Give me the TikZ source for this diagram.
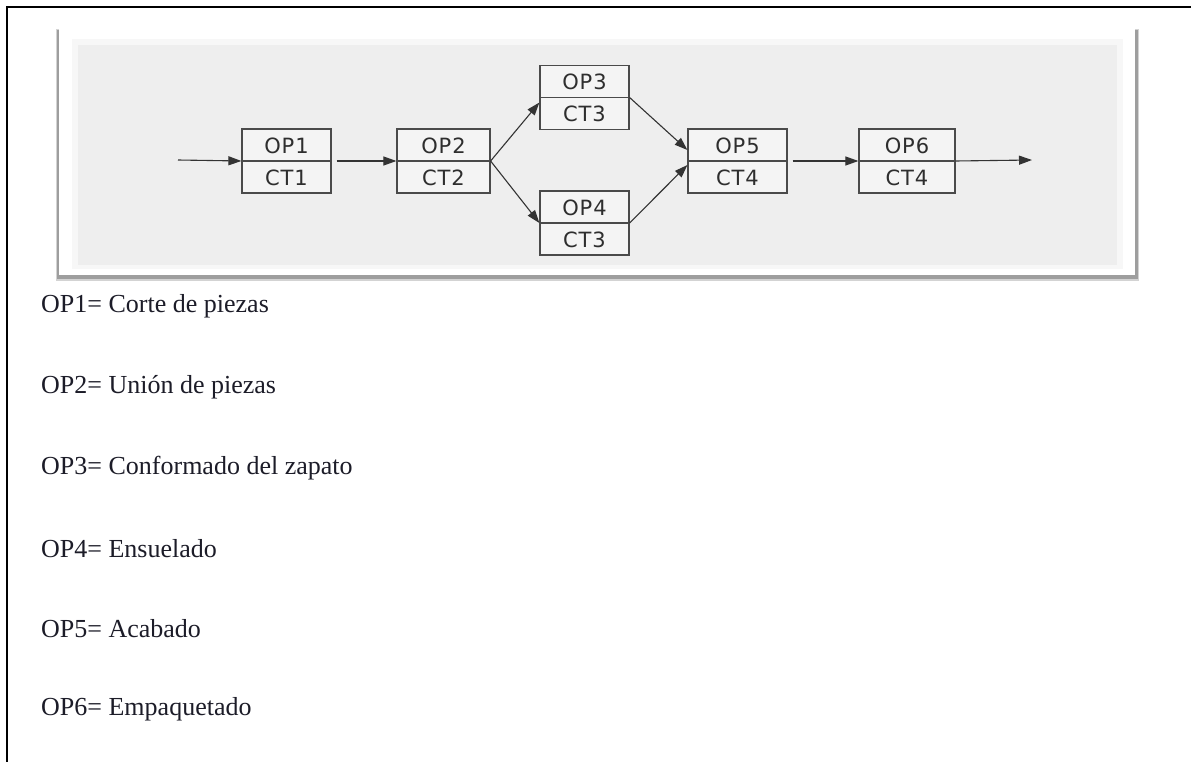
\documentclass[tikz,border=0pt]{standalone}
\usepackage{fontspec}
\setmainfont{Liberation Serif}
\newfontfamily\boxfont[LetterSpace=4]{DejaVu Sans}
\usetikzlibrary{arrows.meta}
\definecolor{panelfill}{HTML}{EEEEEE}
\definecolor{panelshade}{HTML}{9E9E9E}
\definecolor{boxfill}{HTML}{F4F4F4}
\definecolor{boxline}{HTML}{4A4A4A}
\definecolor{inktext}{HTML}{1C1C28}
% one operation stage: name, x, y, width, upper label, lower label
\newcommand\opstage[6]{%
  \node[opbox, minimum width=#4pt] (#1) at (#2,#3) {};
  \draw[boxline, line width=1.2pt] (#1.west) -- (#1.east);
  \node[boxlabel] (#1-op) at ([yshift=15.5pt]#1.center) {#5};
  \node[boxlabel] (#1-ct) at ([yshift=-16.5pt]#1.center) {#6};
}
\begin{document}
\begin{tikzpicture}[x=1pt,y=-1pt,
  opbox/.style={draw=boxline, line width=1.2pt, fill=boxfill, minimum height=64pt, inner sep=0pt},
  boxlabel/.style={font=\boxfont\fontsize{21}{21}\selectfont, text=black!82, inner sep=0pt},
  flow/.style={draw=black!80, line width=1.1pt, -{Triangle[length=13pt,width=9pt]}},
  legend/.style={font=\fontsize{26}{26}\selectfont, text=inktext, anchor=west, inner sep=0pt}]
\useasboundingbox (0,0) rectangle (1191,762);
\fill[white] (0,0) rectangle (1191,762);

% page frame (left and top rules)
\draw[line width=2pt] (7,762) -- (7,7) -- (1191,7);

% framed panel with drop shadow
\fill[panelshade!45] (56,29) rectangle (1139,281);
\fill[panelshade] (57,30) rectangle (1138,279);
\fill[white] (59,27) rectangle (1135,275);
\fill[panelfill!50] (72,39) rectangle (1123,269);
\fill[panelfill] (78,45) rectangle (1117,265);

% operation stages
\opstage{op1}{286.5}{161}{89}{OP1}{CT1}
\opstage{op2}{443.5}{161}{93}{OP2}{CT2}
\opstage{op3}{584.5}{97.5}{89}{OP3}{CT3}
\opstage{op4}{584.5}{223}{89}{OP4}{CT3}
\opstage{op5}{737.5}{161}{99}{OP5}{CT4}
\opstage{op6}{907}{161}{96}{OP6}{CT4}

\coordinate (in) at (178,160);
\coordinate (out) at (1032,160);

% material flow
\draw[flow] (in) -- (op1.west);
\draw[flow, shorten <=5pt] (op1.east) -- (op2.west);
\draw[flow] (op2.east) -- ([yshift=-5pt]op3.west);
\draw[flow] (op2.east) -- (op4.west);
\draw[flow] (op3.east) -- ([yshift=11pt]op5.west);
\draw[flow] (op4.east) -- ([yshift=-4pt]op5.west);
\draw[flow, shorten <=5pt] (op5.east) -- (op6.west);
\draw[flow] (op6.east) -- (out);

% legend
\node[legend] (leg1) at (41,306) {OP1= Corte de piezas};
\node[legend] (leg2) at (41,387) {OP2= Unión de piezas};
\node[legend] (leg3) at (41,468) {OP3= Conformado del zapato};
\node[legend] (leg4) at (41,549) {OP4= Ensuelado};
\node[legend] (leg5) at (41,629) {OP5= Acabado};
\node[legend] (leg6) at (41,709) {OP6= Empaquetado};
\end{tikzpicture}
\end{document}
